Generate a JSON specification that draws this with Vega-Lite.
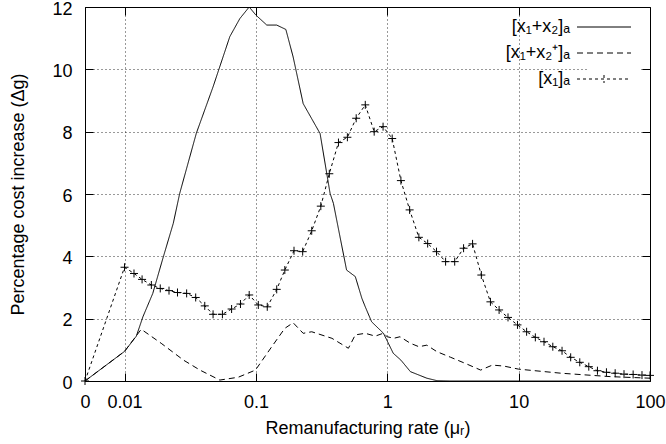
{
  "$schema": "https://vega.github.io/schema/vega-lite/v6.json",
  "width": 565,
  "height": 374,
  "autosize": {"type": "none"},
  "padding": {"left": 85, "top": 7, "right": 16, "bottom": 63},
  "background": "white",
  "config": {
    "font": "Liberation Sans",
    "view": {"stroke": "black", "strokeWidth": 1},
    "axis": {
      "labelFont": "Liberation Sans",
      "labelFontSize": 18,
      "labelColor": "black",
      "titleFont": "Liberation Sans",
      "titleFontSize": 18,
      "titleFontWeight": "normal",
      "titleColor": "black",
      "tickColor": "black",
      "tickWidth": 1,
      "gridColor": "black",
      "gridDash": [1, 3],
      "gridOpacity": 0.8,
      "gridWidth": 1,
      "domain": false,
      "labelOverlap": false,
      "labelFlush": false
    }
  },
  "data": {
    "values": [
      {"series": "[x₁+x₂]ₐ", "rate": 0.005, "cost": 0},
      {"series": "[x₁+x₂]ₐ", "rate": 0.01, "cost": 0.95},
      {"series": "[x₁+x₂]ₐ", "rate": 0.0123, "cost": 1.44},
      {"series": "[x₁+x₂]ₐ", "rate": 0.0138, "cost": 2.06},
      {"series": "[x₁+x₂]ₐ", "rate": 0.0164, "cost": 2.81},
      {"series": "[x₁+x₂]ₐ", "rate": 0.0196, "cost": 3.94},
      {"series": "[x₁+x₂]ₐ", "rate": 0.0235, "cost": 5.06},
      {"series": "[x₁+x₂]ₐ", "rate": 0.0263, "cost": 6.02},
      {"series": "[x₁+x₂]ₐ", "rate": 0.0352, "cost": 7.95},
      {"series": "[x₁+x₂]ₐ", "rate": 0.0472, "cost": 9.44},
      {"series": "[x₁+x₂]ₐ", "rate": 0.0633, "cost": 11.05},
      {"series": "[x₁+x₂]ₐ", "rate": 0.0755, "cost": 11.63},
      {"series": "[x₁+x₂]ₐ", "rate": 0.0889, "cost": 12.0},
      {"series": "[x₁+x₂]ₐ", "rate": 0.1, "cost": 11.74},
      {"series": "[x₁+x₂]ₐ", "rate": 0.121, "cost": 11.42},
      {"series": "[x₁+x₂]ₐ", "rate": 0.144, "cost": 11.42},
      {"series": "[x₁+x₂]ₐ", "rate": 0.169, "cost": 11.28},
      {"series": "[x₁+x₂]ₐ", "rate": 0.192, "cost": 10.4},
      {"series": "[x₁+x₂]ₐ", "rate": 0.229, "cost": 8.9},
      {"series": "[x₁+x₂]ₐ", "rate": 0.308, "cost": 7.94},
      {"series": "[x₁+x₂]ₐ", "rate": 0.367, "cost": 6.02},
      {"series": "[x₁+x₂]ₐ", "rate": 0.389, "cost": 5.7},
      {"series": "[x₁+x₂]ₐ", "rate": 0.49, "cost": 3.56},
      {"series": "[x₁+x₂]ₐ", "rate": 0.571, "cost": 3.35},
      {"series": "[x₁+x₂]ₐ", "rate": 0.641, "cost": 2.65},
      {"series": "[x₁+x₂]ₐ", "rate": 0.68, "cost": 2.38},
      {"series": "[x₁+x₂]ₐ", "rate": 0.76, "cost": 1.9},
      {"series": "[x₁+x₂]ₐ", "rate": 0.936, "cost": 1.53},
      {"series": "[x₁+x₂]ₐ", "rate": 1.11, "cost": 0.89},
      {"series": "[x₁+x₂]ₐ", "rate": 1.27, "cost": 0.67},
      {"series": "[x₁+x₂]ₐ", "rate": 1.5, "cost": 0.3},
      {"series": "[x₁+x₂]ₐ", "rate": 2.0, "cost": 0.09},
      {"series": "[x₁+x₂]ₐ", "rate": 2.39, "cost": 0.01},
      {"series": "[x₁+x₂]ₐ", "rate": 3.0, "cost": 0},
      {"series": "[x₁+x₂]ₐ", "rate": 100, "cost": 0},
      {"series": "[x₁+x₂⁺]ₐ", "rate": 0.005, "cost": 0},
      {"series": "[x₁+x₂⁺]ₐ", "rate": 0.01, "cost": 0.95},
      {"series": "[x₁+x₂⁺]ₐ", "rate": 0.0134, "cost": 1.66},
      {"series": "[x₁+x₂⁺]ₐ", "rate": 0.019, "cost": 1.21},
      {"series": "[x₁+x₂⁺]ₐ", "rate": 0.0281, "cost": 0.67},
      {"series": "[x₁+x₂⁺]ₐ", "rate": 0.0375, "cost": 0.35},
      {"series": "[x₁+x₂⁺]ₐ", "rate": 0.0531, "cost": 0.03},
      {"series": "[x₁+x₂⁺]ₐ", "rate": 0.0733, "cost": 0.12},
      {"series": "[x₁+x₂⁺]ₐ", "rate": 0.0992, "cost": 0.35},
      {"series": "[x₁+x₂⁺]ₐ", "rate": 0.132, "cost": 1.1},
      {"series": "[x₁+x₂⁺]ₐ", "rate": 0.166, "cost": 1.69},
      {"series": "[x₁+x₂⁺]ₐ", "rate": 0.192, "cost": 1.87},
      {"series": "[x₁+x₂⁺]ₐ", "rate": 0.229, "cost": 1.53},
      {"series": "[x₁+x₂⁺]ₐ", "rate": 0.266, "cost": 1.58},
      {"series": "[x₁+x₂⁺]ₐ", "rate": 0.379, "cost": 1.37},
      {"series": "[x₁+x₂⁺]ₐ", "rate": 0.506, "cost": 1.05},
      {"series": "[x₁+x₂⁺]ₐ", "rate": 0.571, "cost": 1.48},
      {"series": "[x₁+x₂⁺]ₐ", "rate": 0.68, "cost": 1.53},
      {"series": "[x₁+x₂⁺]ₐ", "rate": 0.81, "cost": 1.44},
      {"series": "[x₁+x₂⁺]ₐ", "rate": 0.93, "cost": 1.53},
      {"series": "[x₁+x₂⁺]ₐ", "rate": 1.0, "cost": 1.42},
      {"series": "[x₁+x₂⁺]ₐ", "rate": 1.12, "cost": 1.37},
      {"series": "[x₁+x₂⁺]ₐ", "rate": 1.25, "cost": 1.42},
      {"series": "[x₁+x₂⁺]ₐ", "rate": 1.5, "cost": 1.21},
      {"series": "[x₁+x₂⁺]ₐ", "rate": 1.74, "cost": 1.1},
      {"series": "[x₁+x₂⁺]ₐ", "rate": 2.0, "cost": 1.15},
      {"series": "[x₁+x₂⁺]ₐ", "rate": 2.39, "cost": 0.94},
      {"series": "[x₁+x₂⁺]ₐ", "rate": 3.04, "cost": 0.76},
      {"series": "[x₁+x₂⁺]ₐ", "rate": 3.95, "cost": 0.56},
      {"series": "[x₁+x₂⁺]ₐ", "rate": 5.14, "cost": 0.35},
      {"series": "[x₁+x₂⁺]ₐ", "rate": 6.3, "cost": 0.51},
      {"series": "[x₁+x₂⁺]ₐ", "rate": 7.7, "cost": 0.48},
      {"series": "[x₁+x₂⁺]ₐ", "rate": 10, "cost": 0.38},
      {"series": "[x₁+x₂⁺]ₐ", "rate": 21, "cost": 0.25},
      {"series": "[x₁+x₂⁺]ₐ", "rate": 50, "cost": 0.14},
      {"series": "[x₁+x₂⁺]ₐ", "rate": 100, "cost": 0.09},
      {"series": "[x₁]ₐ", "rate": 0.005, "cost": 0},
      {"series": "[x₁]ₐ", "rate": 0.01, "cost": 3.65},
      {"series": "[x₁]ₐ", "rate": 0.0118, "cost": 3.45},
      {"series": "[x₁]ₐ", "rate": 0.0136, "cost": 3.26},
      {"series": "[x₁]ₐ", "rate": 0.016, "cost": 3.08},
      {"series": "[x₁]ₐ", "rate": 0.0187, "cost": 2.97},
      {"series": "[x₁]ₐ", "rate": 0.0218, "cost": 2.9},
      {"series": "[x₁]ₐ", "rate": 0.0253, "cost": 2.84},
      {"series": "[x₁]ₐ", "rate": 0.0297, "cost": 2.81},
      {"series": "[x₁]ₐ", "rate": 0.0348, "cost": 2.68},
      {"series": "[x₁]ₐ", "rate": 0.0408, "cost": 2.41},
      {"series": "[x₁]ₐ", "rate": 0.0472, "cost": 2.14},
      {"series": "[x₁]ₐ", "rate": 0.0556, "cost": 2.14},
      {"series": "[x₁]ₐ", "rate": 0.0653, "cost": 2.31},
      {"series": "[x₁]ₐ", "rate": 0.0763, "cost": 2.47},
      {"series": "[x₁]ₐ", "rate": 0.0889, "cost": 2.76},
      {"series": "[x₁]ₐ", "rate": 0.1043, "cost": 2.44},
      {"series": "[x₁]ₐ", "rate": 0.122, "cost": 2.38},
      {"series": "[x₁]ₐ", "rate": 0.144, "cost": 2.94},
      {"series": "[x₁]ₐ", "rate": 0.166, "cost": 3.56},
      {"series": "[x₁]ₐ", "rate": 0.195, "cost": 4.18},
      {"series": "[x₁]ₐ", "rate": 0.227, "cost": 4.15},
      {"series": "[x₁]ₐ", "rate": 0.266, "cost": 4.82},
      {"series": "[x₁]ₐ", "rate": 0.312, "cost": 5.61},
      {"series": "[x₁]ₐ", "rate": 0.362, "cost": 6.65},
      {"series": "[x₁]ₐ", "rate": 0.425, "cost": 7.65},
      {"series": "[x₁]ₐ", "rate": 0.497, "cost": 7.82},
      {"series": "[x₁]ₐ", "rate": 0.58, "cost": 8.43},
      {"series": "[x₁]ₐ", "rate": 0.68, "cost": 8.86},
      {"series": "[x₁]ₐ", "rate": 0.795, "cost": 8.0},
      {"series": "[x₁]ₐ", "rate": 0.929, "cost": 8.16},
      {"series": "[x₁]ₐ", "rate": 1.09, "cost": 7.78},
      {"series": "[x₁]ₐ", "rate": 1.27, "cost": 6.43},
      {"series": "[x₁]ₐ", "rate": 1.48, "cost": 5.49},
      {"series": "[x₁]ₐ", "rate": 1.74, "cost": 4.61},
      {"series": "[x₁]ₐ", "rate": 2.03, "cost": 4.41},
      {"series": "[x₁]ₐ", "rate": 2.37, "cost": 4.15},
      {"series": "[x₁]ₐ", "rate": 2.78, "cost": 3.83},
      {"series": "[x₁]ₐ", "rate": 3.26, "cost": 3.83},
      {"series": "[x₁]ₐ", "rate": 3.81, "cost": 4.26},
      {"series": "[x₁]ₐ", "rate": 4.46, "cost": 4.4},
      {"series": "[x₁]ₐ", "rate": 5.2, "cost": 3.4},
      {"series": "[x₁]ₐ", "rate": 6.1, "cost": 2.54},
      {"series": "[x₁]ₐ", "rate": 7.1, "cost": 2.28},
      {"series": "[x₁]ₐ", "rate": 8.3, "cost": 2.04},
      {"series": "[x₁]ₐ", "rate": 9.8, "cost": 1.8},
      {"series": "[x₁]ₐ", "rate": 11.5, "cost": 1.58},
      {"series": "[x₁]ₐ", "rate": 13.4, "cost": 1.4},
      {"series": "[x₁]ₐ", "rate": 15.6, "cost": 1.26},
      {"series": "[x₁]ₐ", "rate": 18.2, "cost": 1.1},
      {"series": "[x₁]ₐ", "rate": 21.4, "cost": 0.97},
      {"series": "[x₁]ₐ", "rate": 24.9, "cost": 0.76},
      {"series": "[x₁]ₐ", "rate": 29.2, "cost": 0.6},
      {"series": "[x₁]ₐ", "rate": 34.2, "cost": 0.46},
      {"series": "[x₁]ₐ", "rate": 39.8, "cost": 0.33},
      {"series": "[x₁]ₐ", "rate": 46.6, "cost": 0.28},
      {"series": "[x₁]ₐ", "rate": 54.3, "cost": 0.25},
      {"series": "[x₁]ₐ", "rate": 63.4, "cost": 0.22},
      {"series": "[x₁]ₐ", "rate": 74.4, "cost": 0.21},
      {"series": "[x₁]ₐ", "rate": 86.9, "cost": 0.19},
      {"series": "[x₁]ₐ", "rate": 100, "cost": 0.18}
    ]
  },
  "layer": [
    {
      "mark": {"type": "line", "color": "black", "strokeWidth": 1, "clip": false},
      "encoding": {
        "x": {
          "field": "rate", "type": "quantitative",
          "scale": {"type": "log", "domain": [0.005, 100], "nice": false},
          "axis": {
            "orient": "bottom",
            "values": [0.005, 0.01, 0.1, 1, 10, 100],
            "labelExpr": "datum.value < 0.008 ? '0' : format(datum.value, '~g')",
            "tickSize": -8,
            "labelPadding": 20,
            "grid": true,
            "title": "Remanufacturing rate (μᵣ)",
            "titlePadding": 8
          }
        },
        "y": {
          "field": "cost", "type": "quantitative",
          "scale": {"domain": [0, 12], "nice": false, "zero": false},
          "axis": {
            "orient": "left",
            "values": [0, 2, 4, 6, 8, 10, 12],
            "tickSize": -8,
            "labelPadding": 21,
            "labelOffset": 2,
            "grid": true,
            "title": "Percentage cost increase (Δg)",
            "titlePadding": 24
          }
        },
        "strokeDash": {
          "field": "series", "type": "nominal",
          "scale": {"domain": ["[x₁+x₂]ₐ", "[x₁+x₂⁺]ₐ", "[x₁]ₐ"], "range": [[1, 0], [6, 4], [3, 3]]},
          "legend": {
            "title": null,
            "orient": "none",
            "legendX": 502,
            "legendY": 3,
            "padding": 8,
            "fillColor": "white",
            "labelFont": "Liberation Sans",
            "labelFontSize": 18,
            "labelColor": "black",
            "labelAlign": "right",
            "labelOffset": -43,
            "labelLimit": 300,
            "rowPadding": 8,
            "symbolType": "M-5.4,0L5.4,0",
            "symbolSize": 100,
            "symbolStrokeWidth": 1,
            "symbolStrokeColor": "black",
            "encode": {
              "symbols": {
                "update": {
                  "shape": {"signal": "datum.value == '[x₁]ₐ' ? 'M-5.4,0L5.4,0M0,-0.8L0,0.8' : 'M-5.4,0L5.4,0'"}
                }
              }
            }
          }
        }
      }
    },
    {
      "transform": [{"filter": "datum.series == '[x₁]ₐ'"}],
      "mark": {
        "type": "point",
        "shape": "M-1,0L1,0M0,-1L0,1",
        "filled": false,
        "stroke": "black",
        "strokeWidth": 1,
        "size": 64,
        "opacity": 1,
        "clip": false
      },
      "encoding": {
        "x": {
          "field": "rate", "type": "quantitative",
          "axis": {"orient": "top", "values": [0.01, 0.1, 1, 10], "tickSize": -8, "labels": false, "title": null, "grid": false}
        },
        "y": {
          "field": "cost", "type": "quantitative",
          "axis": {"orient": "right", "values": [2, 4, 6, 8, 10], "tickSize": -8, "labels": false, "title": null, "grid": false}
        }
      }
    }
  ],
  "resolve": {"axis": {"x": "independent", "y": "independent"}}
}
